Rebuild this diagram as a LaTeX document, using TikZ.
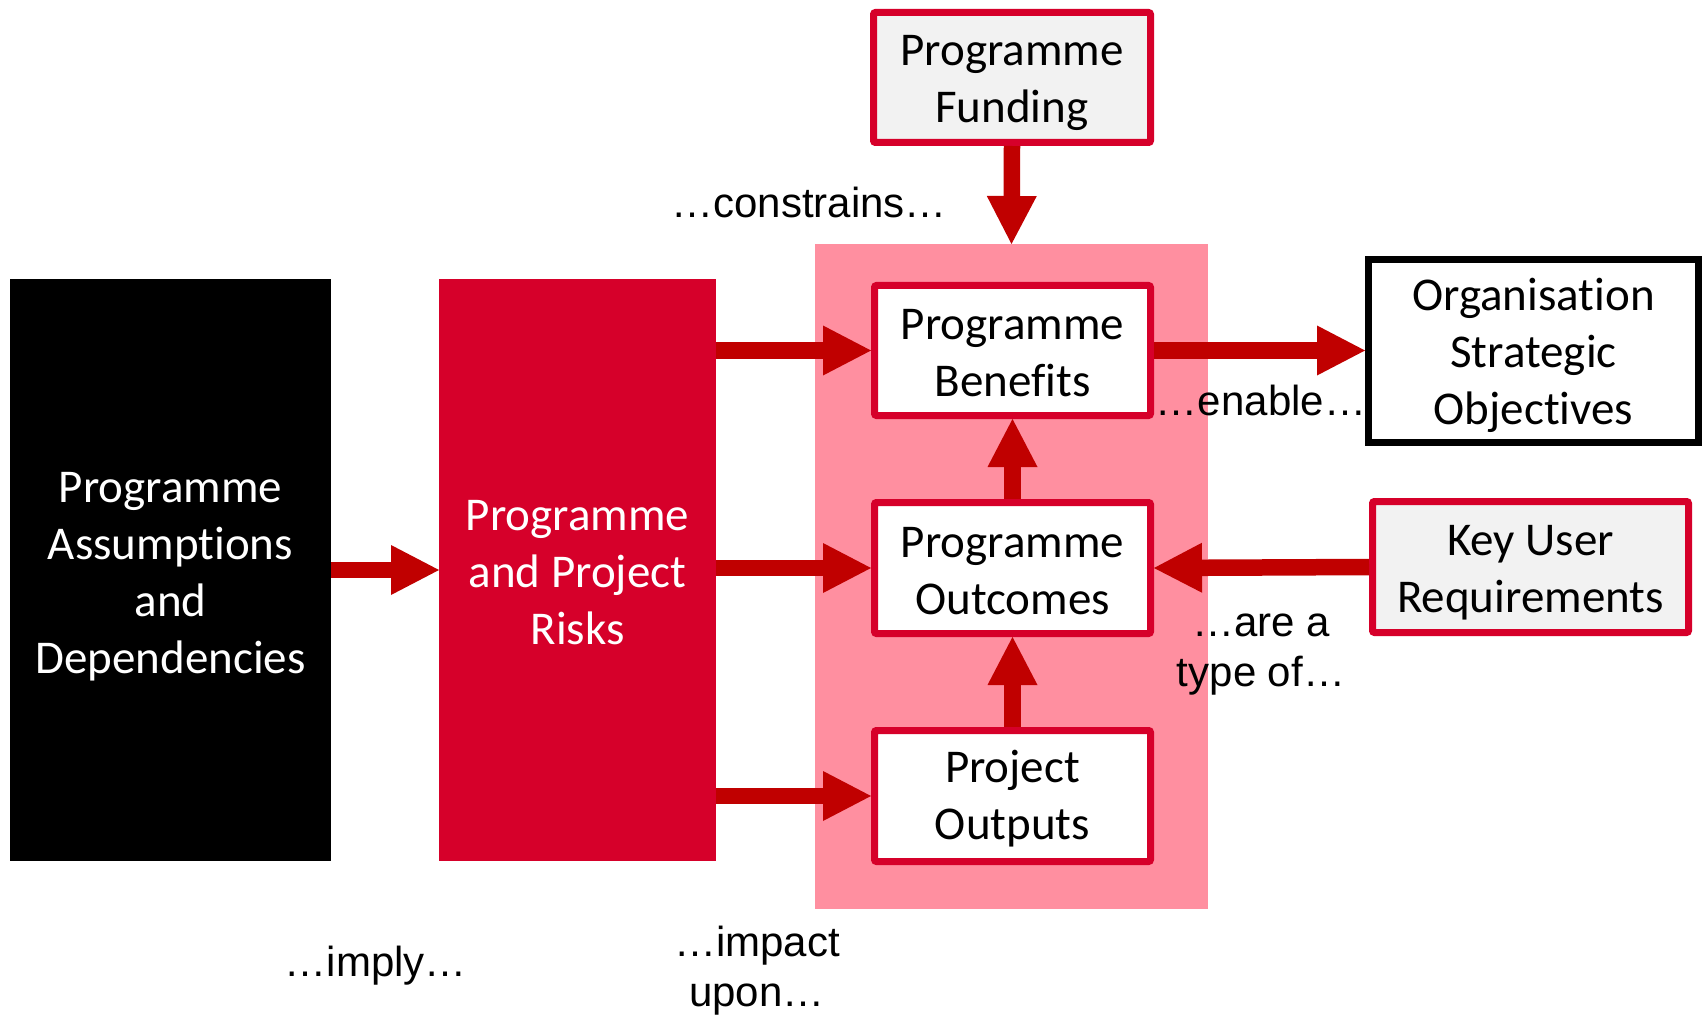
\documentclass[tikz,border=0pt]{standalone}
\usepackage{fontspec}
\setmainfont{Carlito}[Ligatures=NoCommon]
\newfontfamily\labelfont{Liberation Sans}
\usetikzlibrary{arrows.meta}
\definecolor{boxred}{HTML}{D6002A}
\definecolor{arrowred}{HTML}{C00000}
\definecolor{panelpink}{HTML}{FF8FA0}
\definecolor{softgrey}{HTML}{F2F2F2}
\tikzset{
  boxtext/.style={font=\fontsize{47}{57}\selectfont, align=center, inner sep=0pt},
  redframe/.style={draw=boxred, line width=7pt, rounded corners=2pt, fill=white, inner sep=0pt},
  greyframe/.style={redframe, fill=softgrey},
  blackframe/.style={draw=black, line width=7pt, fill=white, inner sep=0pt},
  solidblock/.style={inner sep=0pt, outer sep=0pt, minimum width=#1, minimum height=582pt},
  linklabel/.style={font=\labelfont\fontsize{42}{50}\selectfont, align=center, inner sep=0pt},
  bigarrow/.style={draw=arrowred, line width=16.5pt,
    -{Triangle[length=48pt,width=50pt,line width=0pt]}}
}
\begin{document}
\begin{tikzpicture}[x=1pt,y=-1pt]
\useasboundingbox (0,0) rectangle (1703,1016);
\fill[white] (0,0) rectangle (1703,1016);

% pink panel holding the benefits chain
\node[fill=panelpink, minimum width=393pt, minimum height=665pt, inner sep=0pt, outer sep=0pt] (P) at (1011.5,576.5) {};

% left-hand blocks
\node[solidblock=321pt, fill=black] (A) at (170.5,570) {};
\node[boxtext, text=white] (At) at ([yshift=-6.5pt]A.center) {Programme\\Assumptions\\and\\Dependencies};
\node[solidblock=277pt, fill=boxred] (R) at (577.5,570) {};
\node[boxtext, text=white] (Rt) at ([yshift=-3pt]R.center) {Programme\\and Project\\Risks};

% framed boxes
\node[greyframe, minimum width=277pt, minimum height=130pt] (F) at (1012,77.5) {};
\node[boxtext] (Ft) at ([yshift=-5.5pt]F.center) {Programme\\Funding};
\node[redframe, minimum width=276pt, minimum height=130pt] (B) at (1012.5,350.5) {};
\node[boxtext] (Bt) at ([yshift=-3pt]B.center) {Programme\\Benefits};
\node[redframe, minimum width=276pt, minimum height=131pt] (O) at (1012.5,568) {};
\node[boxtext] (Ot) at ([yshift=-3pt]O.center) {Programme\\Outcomes};
\node[redframe, minimum width=276pt, minimum height=131pt] (U) at (1012.5,796) {};
\node[boxtext] (Ut) at ([yshift=-3pt]U.center) {Project\\Outputs};
\node[blackframe, minimum width=330pt, minimum height=183pt] (S) at (1533.5,351) {};
\node[boxtext] (St) at ([yshift=-4.5pt]S.center) {Organisation\\Strategic\\Objectives};
\node[greyframe, minimum width=316pt, minimum height=131pt] (K) at (1530.5,567) {};
\node[boxtext] (Kt) at ([yshift=-5.5pt]K.center) {Key User\\Requirements};

% connectors
\draw[bigarrow] (A.east) -- (R.west);
\draw[bigarrow] (R.east |- B.west) -- (B.west);
\draw[bigarrow] (R.east |- O.west) -- (O.west);
\draw[bigarrow] (R.east |- U.west) -- (U.west);
\draw[bigarrow] (F.south) -- (P.north);
\draw[bigarrow] (U.north) -- (O.south);
\draw[bigarrow] (O.north) -- (B.south);
\draw[bigarrow] (B.east) -- (S.west |- B.east);
\draw[bigarrow] (K.west) -- (O.east);

% link labels
\node[linklabel] (l1) at (809,202) {…constrains…};
\node[linklabel] (l2) at (1261,400) {…enable…};
\node[linklabel] (l3) at (1261,654.5) {…are a\\type of…};
\node[linklabel] (l4) at (376,966) {…imply…};
\node[linklabel] (l5) at (757,971) {…impact\\upon…};
\end{tikzpicture}
\end{document}
